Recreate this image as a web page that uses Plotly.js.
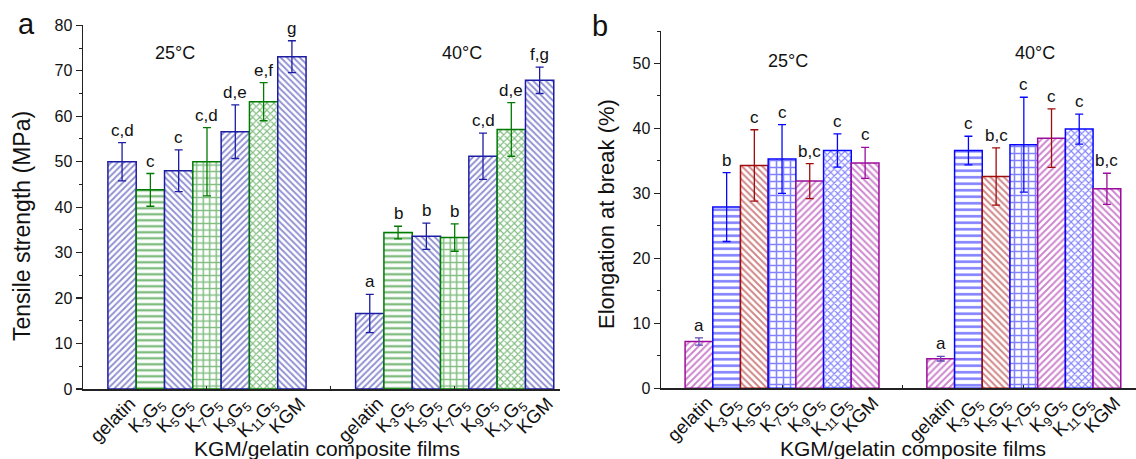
<!DOCTYPE html>
<html>
<head>
<meta charset="utf-8">
<script src="https://cdn.plot.ly/plotly-3.0.1.min.js"></script>
<style>html,body{margin:0;padding:0;background:#fff;}#chart{width:1136px;height:459px;}</style>
</head>
<body>
<div id="chart"></div>
<script>
// ---------- data ----------
const films = ["gelatin", "K<sub>3</sub>G<sub>5</sub>", "K<sub>5</sub>G<sub>5</sub>", "K<sub>7</sub>G<sub>5</sub>", "K<sub>9</sub>G<sub>5</sub>", "K<sub>11</sub>G<sub>5</sub>", "KGM"];
const temperatures = ["25°C", "40°C"];

const tensile25 = [50.0, 43.8, 48.0, 50.0, 56.6, 63.2, 73.1];
const tensile25Err = [4.2, 3.6, 4.6, 7.5, 5.9, 4.2, 3.5];
const tensile25Letters = ["c,d", "c", "c", "c,d", "d,e", "e,f", "g"];
const tensile40 = [16.6, 34.4, 33.6, 33.3, 51.2, 57.1, 67.9];
const tensile40Err = [4.2, 1.4, 2.9, 3.0, 5.1, 5.9, 2.9];
const tensile40Letters = ["a", "b", "b", "b", "c,d", "d,e", "f,g"];

const elong25 = [7.2, 27.9, 34.3, 35.3, 31.9, 36.6, 34.7];
const elong25Err = [0.55, 5.3, 5.5, 5.3, 2.7, 2.55, 2.4];
const elong25Letters = ["a", "b", "c", "c", "b,c", "c", "c"];
const elong40 = [4.55, 36.6, 32.6, 37.5, 38.5, 39.9, 30.7];
const elong40Err = [0.35, 2.2, 4.4, 7.3, 4.5, 2.3, 2.4];
const elong40Letters = ["a", "c", "b,c", "c", "c", "c", "b,c"];

// ---------- styles ----------
const FONT = "Arial, 'Liberation Sans', sans-serif";
const NAVY = "#1C1CA4", GREEN = "#007A00";
const MAG = "#9C0C9C", BLUE = "#0606FF", WINE = "#A00C0C";
const patA = ["/", "-", "\\", "+", "/", "x", "\\"];
const colA = [NAVY, GREEN, NAVY, GREEN, NAVY, GREEN, NAVY];
const errColA = colA;
const sizeA = [4.5, 6, 4.5, 6.5, 4.5, 5, 4.5];
const patB = ["/", "-", "\\", "+", "/", "x", "\\"];
const colB = [MAG, BLUE, WINE, BLUE, MAG, BLUE, MAG];
const errColB = ["#6048B8", BLUE, WINE, BLUE, WINE, BLUE, MAG];
const sizeB = [4.8, 6.5, 4.8, 7, 4.8, 5, 4.8];

const centersA = [4.38, 13.13];
const centersB = [4.37, 13.10];

const traces = [];
const annotations = [];

function addPanel(xa, ya, centers, v25, e25, l25, v40, e40, l40, pats, cols, errCols, sizes) {
  for (let i = 0; i < films.length; i++) {
    const off = i - (films.length - 1) / 2;
    const xs = [centers[0] + off, centers[1] + off];
    traces.push({
      type: "bar", xaxis: xa, yaxis: ya, x: xs, y: [v25[i], v40[i]], width: 1,
      showlegend: false, hoverinfo: "skip",
      marker: {
        color: "white",
        line: { color: cols[i], width: 1.5 },
        pattern: { shape: pats[i], fgcolor: cols[i], bgcolor: "white", size: sizes[i], solidity: 0.4, fillmode: "overlay" }
      },
      error_y: { type: "data", array: [e25[i], e40[i]], visible: true, color: errCols[i], thickness: 1.3, width: 4 }
    });
    [[v25[i] + e25[i], l25[i], xs[0]], [v40[i] + e40[i], l40[i], xs[1]]].forEach(([top, txt, x]) => {
      annotations.push({ xref: xa, yref: ya, x: x, y: top, text: txt, showarrow: false, xanchor: "center", yanchor: "bottom", yshift: 1, font: { family: FONT, size: 17, color: "#111" } });
    });
  }
}

addPanel("x", "y", centersA, tensile25, tensile25Err, tensile25Letters, tensile40, tensile40Err, tensile40Letters, patA, colA, errColA, sizeA);
addPanel("x2", "y2", centersB, elong25, elong25Err, elong25Letters, elong40, elong40Err, elong40Letters, patB, colB, errColB, sizeB);

function paperText(x, y, text, size, angle) {
  annotations.push({ xref: "paper", yref: "paper", x: x / 1136, y: 1 - y / 459, text: text, showarrow: false,
    xanchor: "center", yanchor: "middle", textangle: angle || 0, font: { family: FONT, size: size, color: "#111" } });
}
// temperature labels
paperText(175, 53, temperatures[0], 18);
paperText(462, 53, temperatures[1], 18);
paperText(788, 61, temperatures[0], 18);
paperText(1035, 53, temperatures[1], 18);
// panel letters
paperText(26, 24, "a", 29);
paperText(600, 26, "b", 29);
// axis titles
paperText(22, 226, "Tensile strength (MPa)", 23, -90);
paperText(606, 214, "Elongation at break (%)", 22, -90);
paperText(327, 448, "KGM/gelatin composite films", 21);
paperText(913, 448, "KGM/gelatin composite films", 21);

function xAxis(domain, range, centers, anchor) {
  const tv = [], tt = [];
  centers.forEach(c => films.forEach((f, i) => { tv.push(c + i - (films.length - 1) / 2); tt.push(f); }));
  return {
    domain: domain, range: range, anchor: anchor, tickmode: "array", tickvals: tv, ticktext: tt,
    tickangle: -45, ticks: "", showgrid: false, zeroline: false, showline: true,
    ticklabelshift: 8, ticklabelstandoff: -5,
    linecolor: "#222", linewidth: 1.5, tickfont: { family: FONT, size: 18.5, color: "#111" },
    minor: { tickmode: "array", tickvals: [centers[0], (centers[0] + centers[1]) / 2, centers[1]], ticks: "inside", ticklen: 3, tickcolor: "#222", tickwidth: 1, showgrid: false },
    fixedrange: true, automargin: false
  };
}
function yAxis(domain, range, anchor) {
  return {
    domain: domain, range: range, anchor: anchor, dtick: 10, tick0: 0, ticks: "outside", ticklen: 6,
    tickwidth: 1.2, tickcolor: "#222", showgrid: false, zeroline: false, showline: true,
    linecolor: "#222", linewidth: 1.5, tickfont: { family: FONT, size: 16, color: "#111" },
    minor: { dtick: 5, ticks: "outside", ticklen: 3, tickcolor: "#222", tickwidth: 1, showgrid: false },
    fixedrange: true, automargin: false
  };
}

const layout = {
  width: 1136, height: 459,
  margin: { l: 0, r: 0, t: 0, b: 0 },
  paper_bgcolor: "white", plot_bgcolor: "white",
  barmode: "overlay", showlegend: false,
  font: { family: FONT, color: "#111" },
  xaxis: xAxis([83 / 1136, 560 / 1136], [0, 16.85], centersA, "y"),
  yaxis: yAxis([70 / 459, 433.7 / 459], [0, 80], "x"),
  xaxis2: xAxis([661 / 1136, 1], [0, 17.15], centersB, "y2"),
  yaxis2: yAxis([70.7 / 459, 428 / 459], [0, 55], "x2"),
  annotations: annotations
};

Plotly.newPlot("chart", traces, layout, { staticPlot: true, displayModeBar: false });
</script>
</body>
</html>
